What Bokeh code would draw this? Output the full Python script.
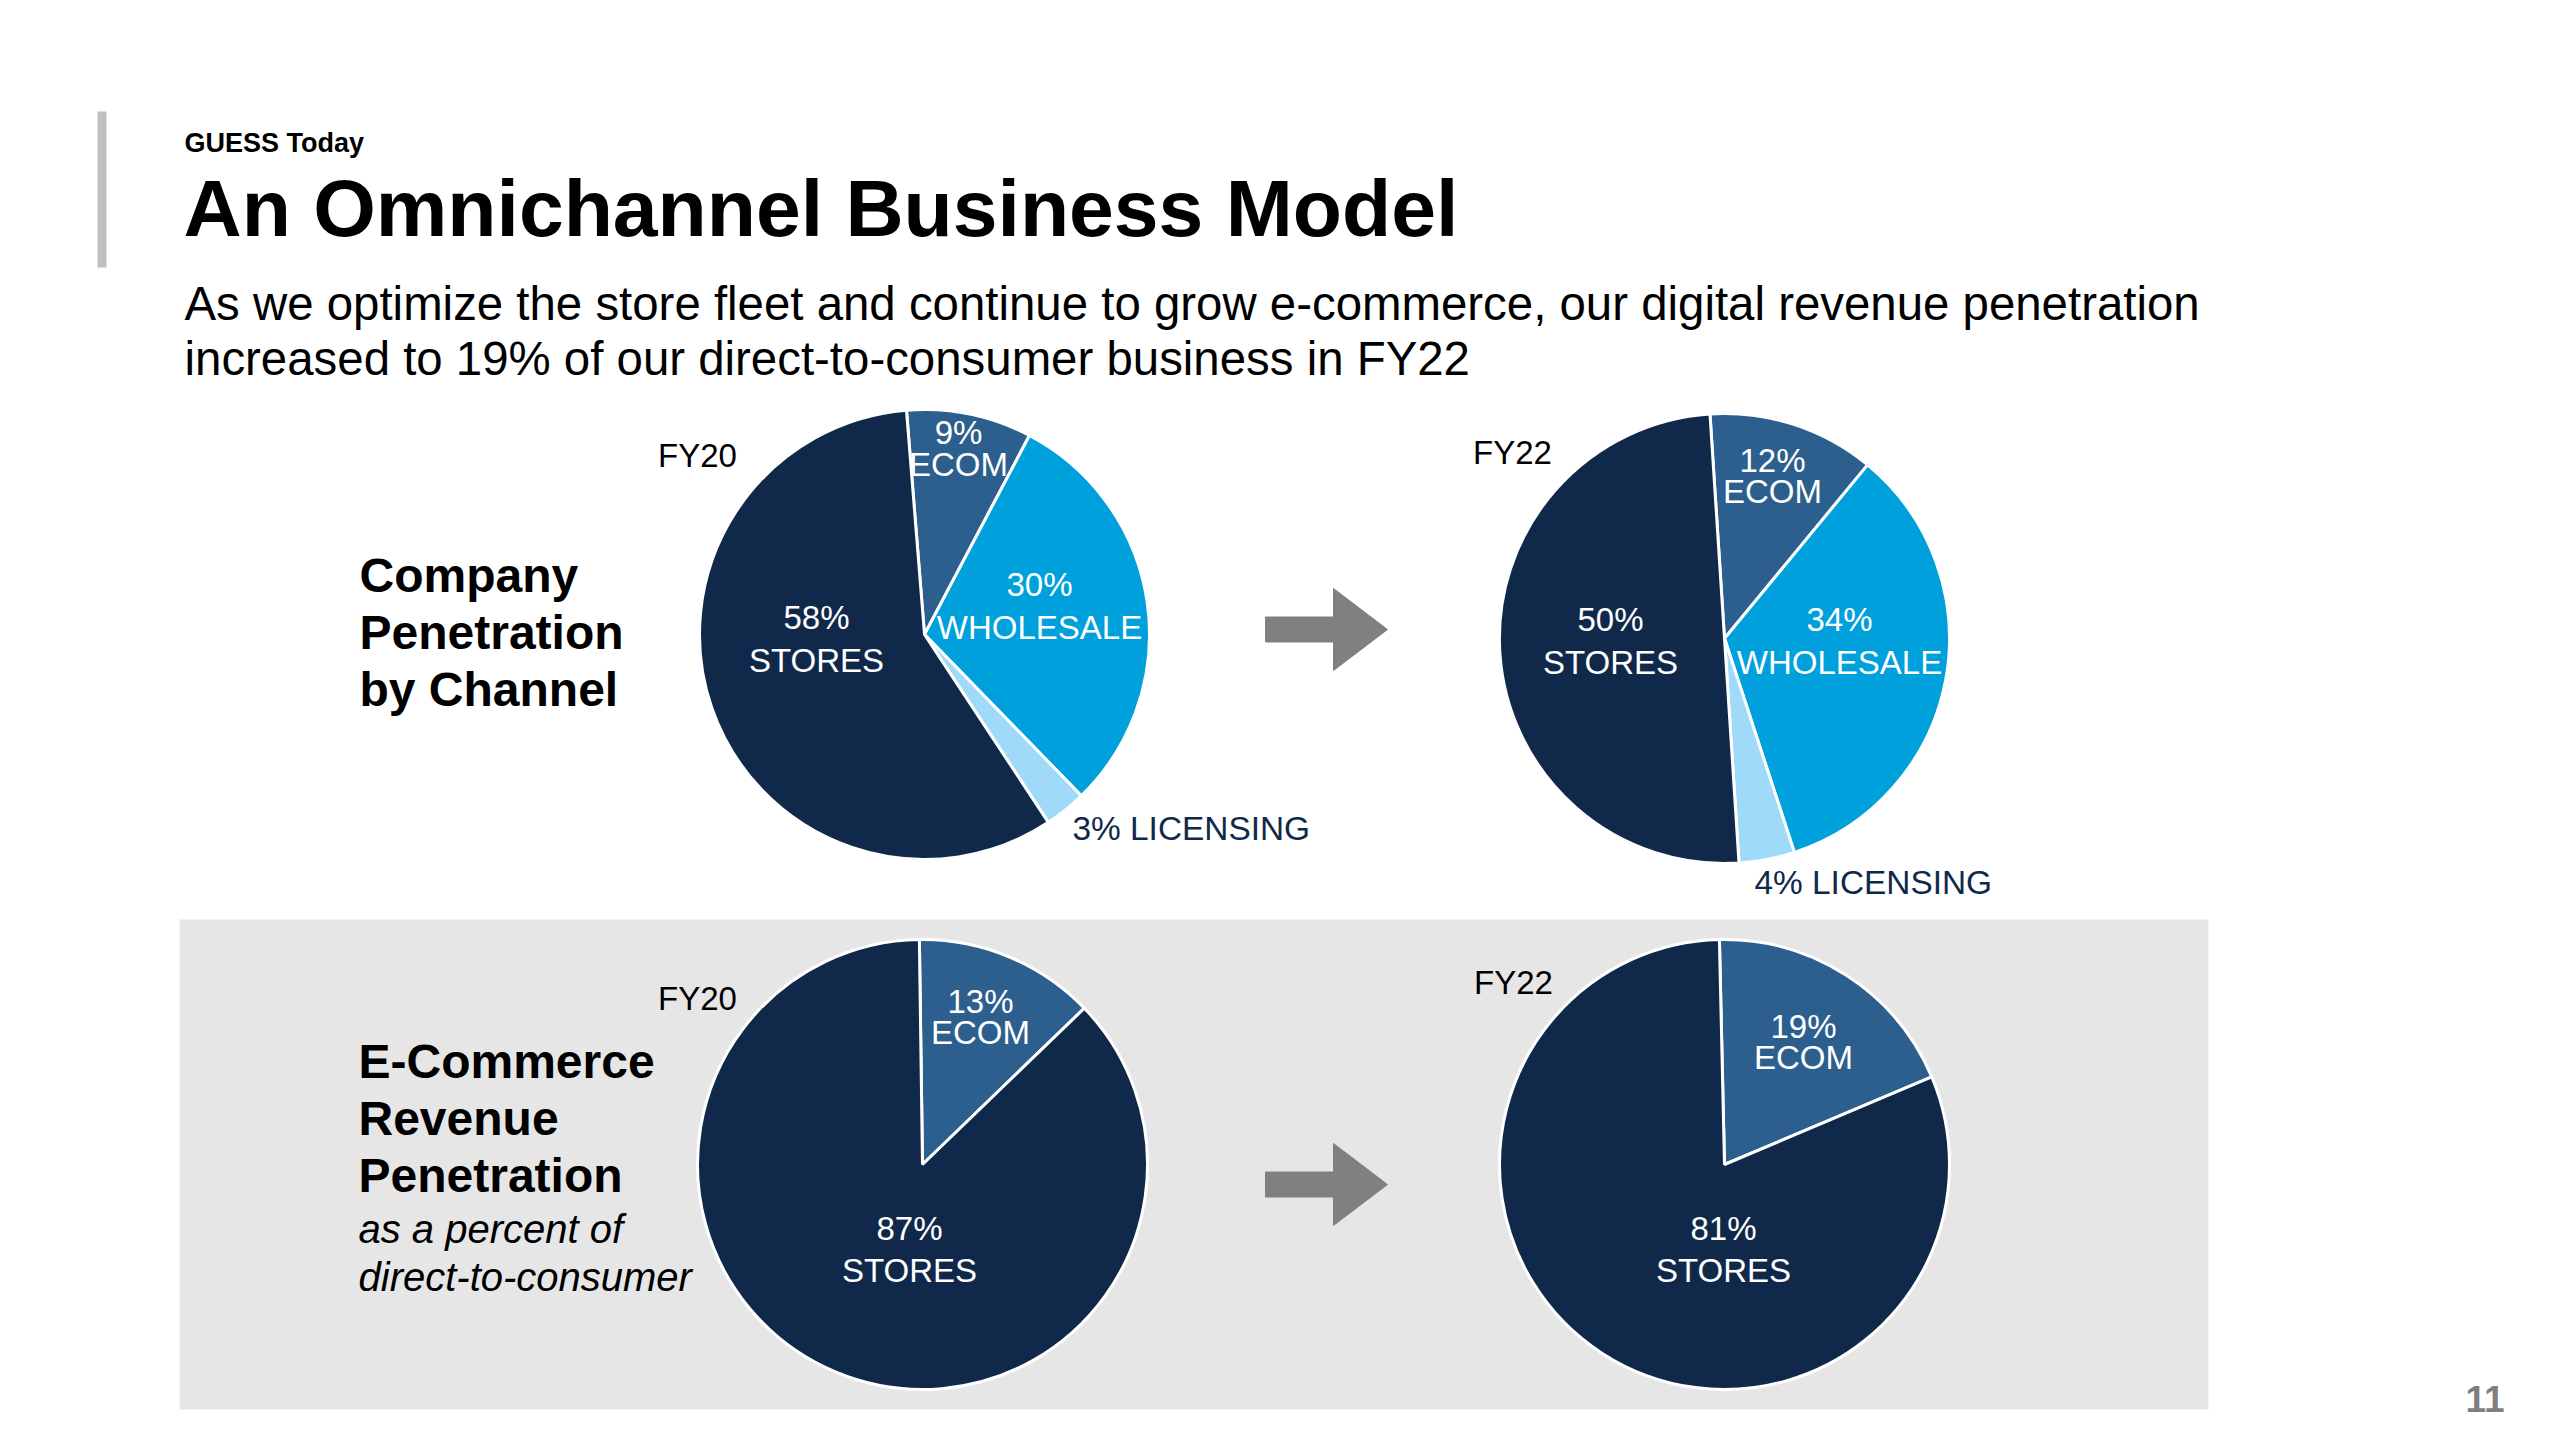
import numpy as np
from bokeh.plotting import figure
from bokeh.models import Range1d, ColumnDataSource
from bokeh.core.properties import value
from bokeh.embed import file_html
from bokeh.resources import INLINE

# ---------------- data ----------------
channels = ["ECOM", "WHOLESALE", "LICENSING", "STORES"]
fy20_channel_share = [9, 30, 3, 58]
fy22_channel_share = [12, 34, 4, 50]
dtc_channels = ["ECOM", "STORES"]
fy20_dtc_share = [13, 87]
fy22_dtc_share = [19, 81]
years = ["FY20", "FY22"]

# ---------------- style ----------------
NAVY = "#10294A"
ECOM_C = "#2C5F8E"
WHOLE_C = "#00A0DC"
LIC_C = "#A0DAF9"
channel_colors = [ECOM_C, WHOLE_C, LIC_C, NAVY]
dtc_colors = [ECOM_C, NAVY]
FONT = value("Liberation Sans")

W, H = 2544, 1424
p = figure(width=W, height=H, x_range=Range1d(0, W), y_range=Range1d(1440 - H, 1440),
           output_backend="svg", toolbar_location=None, min_border=0,
           background_fill_color="white", border_fill_color="white")
p.axis.visible = False
p.xgrid.visible = False
p.ygrid.visible = False
p.outline_line_color = None


def Y(y):
    return 1440 - y


def txt(x, y, s, size, color="black", align="left", baseline="middle", style="normal"):
    p.text(x=[x], y=[Y(y)], text=[s], text_font=FONT, text_font_size=f"{size}px",
           text_color=color, text_align=align, text_baseline=baseline,
           text_font_style=style)


def pie(cx, cy, r, vals, colors, offset_deg):
    vals = np.asarray(vals, dtype=float)
    frac = vals / vals.sum()
    ends = np.cumsum(frac) * 360 + offset_deg
    starts = ends - frac * 360
    src = ColumnDataSource(dict(start=np.radians(90 - ends), end=np.radians(90 - starts),
                                color=colors))
    p.wedge(x=cx, y=Y(cy), radius=r, start_angle="start", end_angle="end",
            fill_color="color", line_color="white", line_width=3, source=src)


def arrow(x0, yc):
    xs = [x0, x0 + 68, x0 + 68, x0 + 122, x0 + 68, x0 + 68, x0]
    ys = [yc - 12.5, yc - 12.5, yc - 41, yc, yc + 41, yc + 12.5, yc + 12.5]
    p.patch(x=xs, y=[Y(v) for v in ys], fill_color="#808080", line_color="#808080", line_width=1)


# gray panel behind bottom row
p.quad(left=[179], right=[2208], top=[Y(919)], bottom=[Y(1409)], fill_color="#E6E6E6", line_color=None)
# left accent bar
p.quad(left=[97], right=[106], top=[Y(111)], bottom=[Y(267)], fill_color="#BFBFBF", line_color=None)

# header texts
txt(184, 142, "GUESS Today", 27, style="bold")
txt(183, 207, "An Omnichannel Business Model", 80.5, style="bold")
txt(184, 303, "As we optimize the store fleet and continue to grow e-commerce, our digital revenue penetration", 47.4)
txt(184, 358, "increased to 19% of our direct-to-consumer business in FY22", 47.4)

# row titles
for i, s in enumerate(["Company", "Penetration", "by Channel"]):
    txt(359, 575 + 57 * i, s, 48, style="bold")
for i, s in enumerate(["E-Commerce", "Revenue", "Penetration"]):
    txt(358, 1061 + 57 * i, s, 48, style="bold")
txt(358, 1228, "as a percent of", 40, style="italic")
txt(358, 1276, "direct-to-consumer", 40, style="italic")

R = 225
# ---- company penetration pies ----
pie(924, 634, R, fy20_channel_share, channel_colors, -4.6)
pie(1724, 638, R, fy22_channel_share, channel_colors, -3.7)

# ---- DTC pies ----
pie(922, 1164, R, fy20_dtc_share, dtc_colors, -0.8)
pie(1724, 1164, R, fy22_dtc_share, dtc_colors, -1.3)

# arrows
arrow(1265, 629)
arrow(1265, 1184)

# year labels
txt(697, 455, years[0], 33, align="center")
txt(1512, 452, years[1], 33, align="center")
txt(697, 998, years[0], 33, align="center")
txt(1513, 982, years[1], 33, align="center")

LBL = 33
# FY20 company labels
e, w, l, s = fy20_channel_share
txt(958, 432, f"{e}%", LBL, "white", "center")
txt(958, 464, channels[0], LBL, "white", "center")
txt(1039, 584, f"{w}%", LBL, "white", "center")
txt(1039, 627, channels[1], LBL, "white", "center")
txt(816, 617, f"{s}%", LBL, "white", "center")
txt(816, 660, channels[3], LBL, "white", "center")
txt(1072, 828, f"{l}% {channels[2]}", 33.4, NAVY, "left")

# FY22 company labels
e, w, l, s = fy22_channel_share
txt(1772, 460, f"{e}%", LBL, "white", "center")
txt(1772, 491, channels[0], LBL, "white", "center")
txt(1839, 619, f"{w}%", LBL, "white", "center")
txt(1839, 662, channels[1], LBL, "white", "center")
txt(1610, 619, f"{s}%", LBL, "white", "center")
txt(1610, 662, channels[3], LBL, "white", "center")
txt(1754, 882, f"{l}% {channels[2]}", 33.4, NAVY, "left")

# FY20 DTC labels
e, s = fy20_dtc_share
txt(980, 1001, f"{e}%", LBL, "white", "center")
txt(980, 1032, dtc_channels[0], LBL, "white", "center")
txt(909, 1228, f"{s}%", LBL, "white", "center")
txt(909, 1270, dtc_channels[1], LBL, "white", "center")

# FY22 DTC labels
e, s = fy22_dtc_share
txt(1803, 1026, f"{e}%", LBL, "white", "center")
txt(1803, 1057, dtc_channels[0], LBL, "white", "center")
txt(1723, 1228, f"{s}%", LBL, "white", "center")
txt(1723, 1270, dtc_channels[1], LBL, "white", "center")

# page number
txt(2504, 1398, "11", 37, "#7F7F7F", "right", "middle", "bold")

open("out.html", "w").write(file_html(p, INLINE))
